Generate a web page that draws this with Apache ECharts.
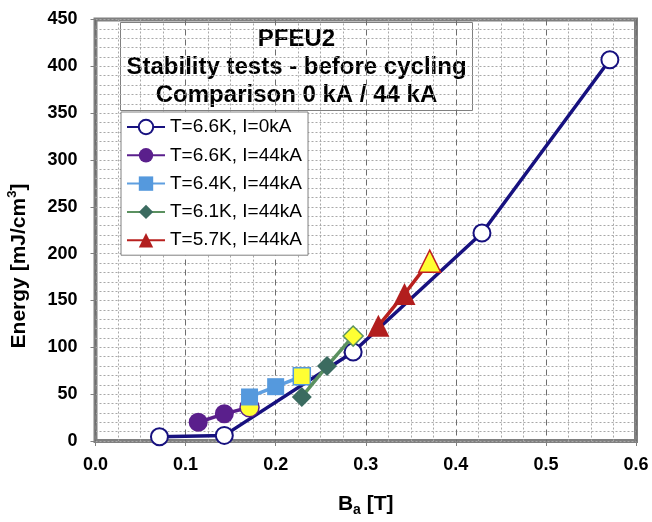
<!DOCTYPE html>
<html>
<head>
<meta charset="utf-8">
<script src="https://cdn.jsdelivr.net/npm/echarts@6/dist/echarts.min.js"></script>
<style>
  html, body { margin: 0; padding: 0; background: #ffffff; }
  #chart { width: 652px; height: 522px; }
</style>
</head>
<body>
<div id="chart"></div>
<script>
// Axis ticks
const xTicks = [0.0, 0.1, 0.2, 0.3, 0.4, 0.5, 0.6];
const yTicks = [0, 50, 100, 150, 200, 250, 300, 350, 400, 450];

// Legend entries
const seriesNames = [
  'T=6.6K, I=0kA',
  'T=6.6K, I=44kA',
  'T=6.4K, I=44kA',
  'T=6.1K, I=44kA',
  'T=5.7K, I=44kA'
];

// Applied field Ba [T] and minimum quench energy [mJ/cm3] per test condition
const ba_66K_0kA = [0.071, 0.143, 0.286, 0.429, 0.571];
const energy_66K_0kA = [4.5, 6, 95, 222, 407];

const ba_66K_44kA = [0.114, 0.143, 0.171];
const energy_66K_44kA = [20, 29, 36];

const ba_64K_44kA = [0.171, 0.200, 0.229];
const energy_64K_44kA = [47, 58, 69];

const ba_61K_44kA = [0.229, 0.257, 0.286];
const energy_61K_44kA = [47, 80, 112];

const ba_57K_44kA = [0.314, 0.343, 0.371];
const energy_57K_44kA = [123, 157, 192];

const FONT = "'Liberation Sans', Arial, sans-serif";
const YELLOW = '#ffff33';

// Pair x/y arrays; the last point of the 44 kA runs is marked in yellow
function points(xs, ys, markLast, edge) {
  return xs.map((x, i) => {
    const item = { value: [x, ys[i]] };
    if (markLast && i === xs.length - 1) {
      item.itemStyle = { color: YELLOW, borderColor: edge, borderWidth: 1.5 };
    }
    return item;
  });
}

function lineSeries(name, xs, ys, opts) {
  return {
    name: name,
    type: 'line',
    data: points(xs, ys, opts.markLast, opts.edge),
    symbol: opts.symbol,
    symbolSize: opts.size,
    showAllSymbol: true,
    lineStyle: { color: opts.line, width: 3.5 },
    itemStyle: opts.item,
    emphasis: { disabled: true },
    z: opts.z
  };
}

const chart = echarts.init(document.getElementById('chart'), null, { renderer: 'canvas' });

const option = {
  animation: false,
  backgroundColor: '#ffffff',
  textStyle: { fontFamily: FONT },
  grid: {
    left: 95.5, right: 16, top: 19.5, bottom: 80,
    show: true,
    backgroundColor: '#ffffff',
    borderColor: '#808080',
    borderWidth: 4
  },
  xAxis: {
    type: 'value',
    min: xTicks[0],
    max: xTicks[xTicks.length - 1],
    interval: xTicks[1] - xTicks[0],
    axisLine: { show: false },
    axisTick: { show: true, inside: false, length: 5, lineStyle: { color: '#808080', width: 1 } },
    axisLabel: {
      margin: 15,
      color: '#000',
      fontFamily: FONT,
      fontWeight: 'bold',
      fontSize: 18,
      formatter: v => v.toFixed(1)
    },
    splitLine: { show: true, lineStyle: { color: '#6e6e6e', width: 1, type: [6, 4] } },
    minorTick: { show: false, splitNumber: 4 },
    minorSplitLine: { show: true, lineStyle: { color: '#a8a8a8', width: 1, type: [2, 2] } },
    name: '{b|B}{s|a}{b| [T]}',
    nameLocation: 'middle',
    nameGap: 50,
    nameTextStyle: {
      rich: {
        b: { fontFamily: FONT, fontWeight: 'bold', fontSize: 21, color: '#000', lineHeight: 26 },
        s: { fontFamily: FONT, fontWeight: 'bold', fontSize: 14, color: '#000', verticalAlign: 'bottom', lineHeight: 26, padding: [8, 0, 0, 0] }
      }
    }
  },
  yAxis: {
    type: 'value',
    min: yTicks[0],
    max: yTicks[yTicks.length - 1],
    interval: yTicks[1] - yTicks[0],
    axisLine: { show: false },
    axisTick: { show: true, inside: false, length: 5, lineStyle: { color: '#808080', width: 1 } },
    axisLabel: {
      margin: 18,
      color: '#000',
      fontFamily: FONT,
      fontWeight: 'bold',
      fontSize: 18
    },
    splitLine: { show: true, lineStyle: { color: '#a8a8a8', width: 1, type: [2, 2] } },
    minorTick: { show: false, splitNumber: 5 },
    minorSplitLine: { show: true, lineStyle: { color: '#a8a8a8', width: 1, type: [2, 2] } }
  },
  legend: {
    data: seriesNames,
    orient: 'vertical',
    left: 121,
    top: 112,
    padding: [5, 6, 5, 5],
    itemWidth: 38,
    itemHeight: 18,
    itemGap: 8.3,
    backgroundColor: '#ffffff',
    borderColor: '#808080',
    borderWidth: 1,
    selectedMode: false,
    textStyle: { fontFamily: FONT, fontSize: 19, lineHeight: 20, color: '#000' },
    z: 10
  },
  graphic: [
    {
      type: 'group',
      z: 10,
      children: [
        {
          type: 'rect',
          shape: { x: 120.5, y: 22.5, width: 352, height: 88 },
          style: { fill: '#ffffff', stroke: '#808080', lineWidth: 1 }
        },
        {
          type: 'text',
          x: 296.5,
          y: 67,
          style: {
            text: 'PFEU2\nStability tests - before cycling\nComparison 0 kA / 44 kA',
            font: 'bold 24px ' + FONT,
            lineHeight: 28,
            align: 'center',
            verticalAlign: 'middle',
            fill: '#000'
          }
        }
      ]
    },
    {
      type: 'text',
      x: 19,
      y: 266,
      rotation: Math.PI / 2,
      style: {
        text: '{a|Energy [mJ/cm}{s|3}{a|]}',
        align: 'center',
        verticalAlign: 'middle',
        rich: {
          a: { fontFamily: FONT, fontWeight: 'bold', fontSize: 21, fill: '#000', lineHeight: 26 },
          s: { fontFamily: FONT, fontWeight: 'bold', fontSize: 13, fill: '#000', lineHeight: 26, verticalAlign: 'top', padding: [0, 0, 10, 0] }
        }
      }
    }
  ],
  series: [
    lineSeries(seriesNames[0], ba_66K_0kA, energy_66K_0kA, {
      symbol: 'circle', size: 17, line: '#17117f', markLast: false, z: 2,
      item: { color: '#ffffff', borderColor: '#17117f', borderWidth: 2 }
    }),
    lineSeries(seriesNames[1], ba_66K_44kA, energy_66K_44kA, {
      symbol: 'circle', size: 19, line: '#5a1f8c', markLast: true, edge: '#5a1f8c', z: 3,
      item: { color: '#5a1f8c' }
    }),
    lineSeries(seriesNames[2], ba_64K_44kA, energy_64K_44kA, {
      symbol: 'rect', size: 17, line: '#5f9fe0', markLast: true, edge: '#5599dd', z: 4,
      item: { color: '#5599dd' }
    }),
    lineSeries(seriesNames[3], ba_61K_44kA, energy_61K_44kA, {
      symbol: 'diamond', size: 20, line: '#5b9160', markLast: true, edge: '#5b9160', z: 5,
      item: { color: '#3b6b60' }
    }),
    lineSeries(seriesNames[4], ba_57K_44kA, energy_57K_44kA, {
      symbol: 'triangle', size: 22, line: '#b8201e', markLast: true, edge: '#c02020', z: 6,
      item: { color: '#b21e1e' }
    })
  ]
};

chart.setOption(option);
</script>
</body>
</html>
